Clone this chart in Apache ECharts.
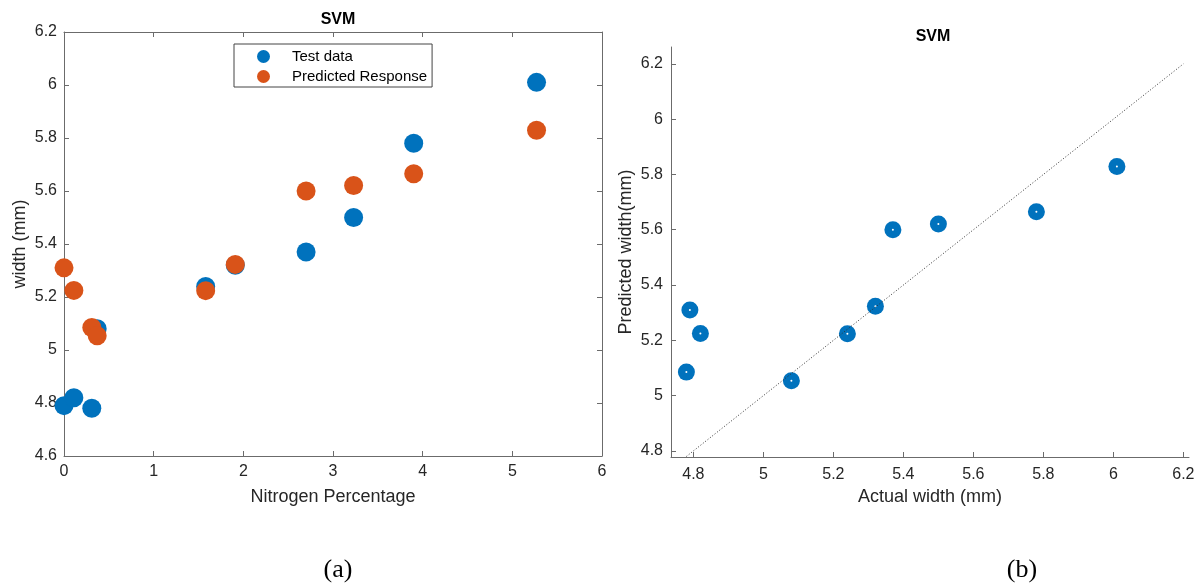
<!DOCTYPE html>
<html>
<head>
<meta charset="utf-8">
<title>SVM</title>
<script src="https://cdn.jsdelivr.net/npm/echarts@6/dist/echarts.min.js"></script>
<style>
  html, body { margin: 0; padding: 0; background: #fff; }
  #chart { width: 1199px; height: 584px; }
</style>
</head>
<body>
<div id="chart"></div>
<script>
// nitrogen percentage of each sample
var nitrogen = [0.00, 0.11, 0.31, 0.37, 1.58, 1.91, 2.70, 3.23, 3.90, 5.27];
// measured width (mm)
var testWidth = [4.79, 4.82, 4.78, 5.08, 5.24, 5.32, 5.37, 5.50, 5.78, 6.01];
// SVM predicted width (mm)
var predWidth = [5.31, 5.225, 5.085, 5.054, 5.224, 5.323, 5.60, 5.621, 5.665, 5.829];

var rightTicks = [4.8, 5, 5.2, 5.4, 5.6, 5.8, 6, 6.2];
var identityLine = [4.78, 6.2];

var BLUE = '#0072BD', ORANGE = '#D95319', AXIS = '#6b6b6b', TXT = '#262626';
var FONT = '"Liberation Sans", Arial, Helvetica, sans-serif';

(function() {
    var chart = echarts.init(document.getElementById('chart'), null, { renderer: 'canvas' });

    var testPts = [], predPts = [], fitPts = [];
    for (var i = 0; i < nitrogen.length; i++) {
        testPts.push([nitrogen[i], testWidth[i]]);
        predPts.push([nitrogen[i], predWidth[i]]);
        fitPts.push([testWidth[i], predWidth[i]]);
    }

    function axisBase(extra) {
        var base = {
            type: 'value',
            splitLine: { show: false },
            axisLine: { show: true, onZero: false, lineStyle: { color: AXIS, width: 1 } },
            axisTick: { show: true, inside: true, length: 5, lineStyle: { color: AXIS } },
            axisLabel: { color: TXT, fontSize: 16, fontFamily: FONT },
            nameTextStyle: { color: TXT, fontSize: 18, fontFamily: FONT }
        };
        return echarts.util.merge(base, extra, true);
    }

    var option = {
        animation: false,
        backgroundColor: '#fff',
        title: [
            { text: 'SVM', left: 333, top: 7, textAlign: 'center',
              textStyle: { fontSize: 16, fontWeight: 'bold', color: '#000', fontFamily: FONT } },
            { text: 'SVM', left: 928, top: 24, textAlign: 'center',
              textStyle: { fontSize: 16, fontWeight: 'bold', color: '#000', fontFamily: FONT } },
            { text: '(a)', left: 333, top: 552, textAlign: 'center',
              textStyle: { fontSize: 26, fontWeight: 'normal', color: '#000', fontFamily: '"Liberation Serif", "Times New Roman", serif' } },
            { text: '(b)', left: 1017, top: 552, textAlign: 'center',
              textStyle: { fontSize: 26, fontWeight: 'normal', color: '#000', fontFamily: '"Liberation Serif", "Times New Roman", serif' } }
        ],
        legend: {
            data: ['Test data', 'Predicted Response'],
            orient: 'vertical',
            left: 234,
            top: 44,
            icon: 'circle',
            itemWidth: 13,
            itemHeight: 13,
            itemGap: 5,
            padding: [5, 5, 3, 23],
            borderColor: '#444',
            borderWidth: 1,
            backgroundColor: '#fff',
            textStyle: { color: '#000', fontSize: 15, fontFamily: FONT, padding: [0, 0, 0, 17] }
        },
        grid: [
            { left: 64, top: 32, width: 538, height: 424 },
            { left: 671, top: 47, width: 518, height: 410 }
        ],
        xAxis: [
            axisBase({ gridIndex: 0, min: 0, max: 6, interval: 1, position: 'bottom',
                name: 'Nitrogen Percentage', nameLocation: 'middle', nameGap: 32,
                axisLabel: { margin: 8 } }),
            axisBase({ gridIndex: 0, min: 0, max: 6, interval: 1, position: 'top',
                axisLabel: { show: false } }),
            axisBase({ gridIndex: 1, min: 4.736, max: 6.216, position: 'bottom',
                name: 'Actual width (mm)', nameLocation: 'middle', nameGap: 30,
                axisTick: { customValues: rightTicks },
                axisLabel: { customValues: rightTicks, margin: 10 } })
        ],
        yAxis: [
            axisBase({ gridIndex: 0, min: 4.6, max: 6.2, interval: 0.2, position: 'left',
                name: 'width (mm)', nameLocation: 'middle', nameGap: 35,
                axisLabel: { margin: 7 } }),
            axisBase({ gridIndex: 0, min: 4.6, max: 6.2, interval: 0.2, position: 'right',
                axisLabel: { show: false } }),
            axisBase({ gridIndex: 1, min: 4.778, max: 6.261, position: 'left',
                name: 'Predicted width(mm)', nameLocation: 'middle', nameGap: 36,
                axisTick: { customValues: rightTicks },
                axisLabel: { customValues: rightTicks, margin: 8 } })
        ],
        series: [
            { name: 'Test data', type: 'scatter', xAxisIndex: 0, yAxisIndex: 0,
              data: testPts, symbolSize: 19, itemStyle: { color: BLUE, opacity: 1 } },
            { name: 'Predicted Response', type: 'scatter', xAxisIndex: 0, yAxisIndex: 0,
              data: predPts, symbolSize: 19, itemStyle: { color: ORANGE, opacity: 1 } },
            { name: 'identity', type: 'line', xAxisIndex: 2, yAxisIndex: 2,
              data: [[identityLine[0], identityLine[0]], [identityLine[1], identityLine[1]]],
              symbol: 'none', silent: true,
              lineStyle: { type: [1, 2], color: '#333', width: 1 } },
            { name: 'fit', type: 'scatter', xAxisIndex: 2, yAxisIndex: 2,
              data: fitPts, symbolSize: 17, itemStyle: { color: BLUE, opacity: 1 } },
            { name: 'fitDot', type: 'scatter', xAxisIndex: 2, yAxisIndex: 2,
              data: fitPts, symbolSize: 2, silent: true, itemStyle: { color: '#fff', opacity: 1 } }
        ]
    };

    chart.setOption(option);
})();
</script>
</body>
</html>
